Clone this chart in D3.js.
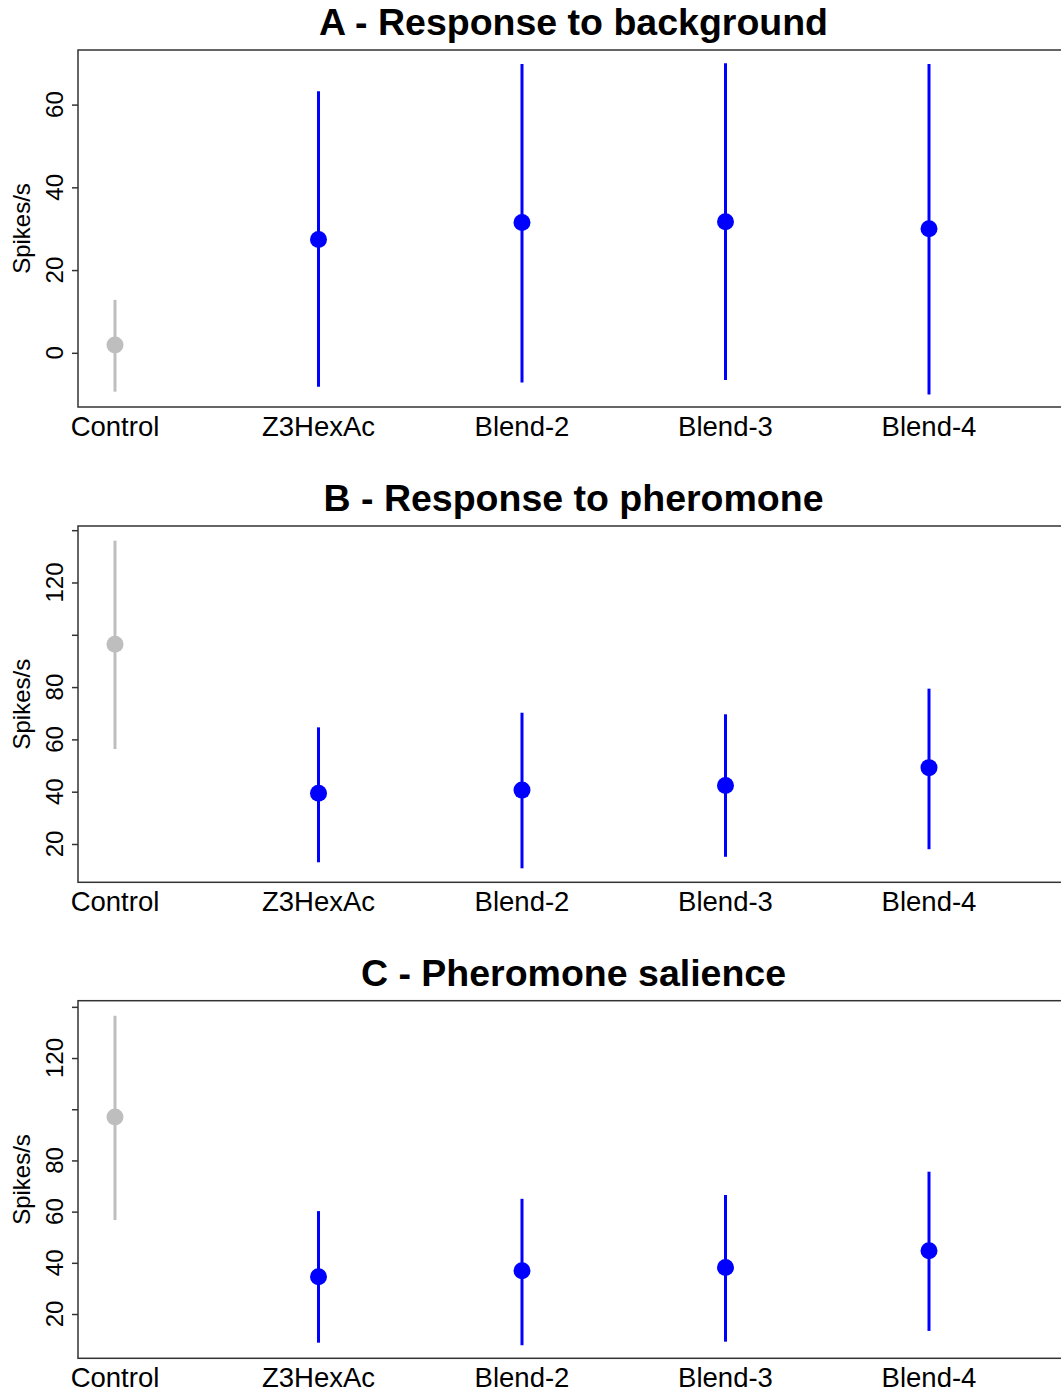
<!DOCTYPE html>
<meta charset="utf-8">
<html>
<script src="https://d3js.org/d3.v7.min.js"></script>
<style>
  body { margin: 0; background: #fff; }
  text { font-family: "Liberation Sans", Arial, sans-serif; }
</style>
<body>
<div id="chart"></div>
<script>

    // categories along the x axis
    const categories = ["Control", "Z3HexAc", "Blend-2", "Blend-3", "Blend-4"]

    // panel titles
    const titles = ["A - Response to background", "B - Response to pheromone", "C - Pheromone salience"]

    // A - response to background (spikes/s)
    const meanA = [1.9, 27.4, 31.5, 31.7, 30.0]
    const lowA  = [-9.4, -8.2, -7.2, -6.6, -10.1]
    const highA = [12.8, 63.2, 69.8, 70.0, 69.8]

    // B - response to pheromone
    const meanB = [96.4, 39.4, 40.6, 42.4, 49.2]
    const lowB  = [56.3, 13.0, 10.7, 15.1, 18.0]
    const highB = [136.0, 64.6, 70.2, 69.6, 79.4]

    // C - pheromone salience
    const meanC = [97.0, 34.6, 36.9, 38.2, 44.7]
    const lowC  = [56.7, 8.8, 7.8, 9.2, 13.4]
    const highC = [136.5, 60.2, 65.0, 66.5, 75.6]

    // y ticks (R drops the labels that would overlap)
    const ticksA = [0, 20, 40, 60]
    const labelsA = [0, 20, 40, 60]
    const ticksBC = [20, 40, 60, 80, 100, 120, 140]
    const labelsBC = [20, 40, 60, 80, 120]

    const width = 1061, height = 1391

    const panels = [
      {title: titles[0], mean: meanA, low: lowA, high: highA, ticks: ticksA, labels: labelsA,
       domain: [-13.1, 73.2], top: 50, bottom: 407},
      {title: titles[1], mean: meanB, low: lowB, high: highB, ticks: ticksBC, labels: labelsBC,
       domain: [5.35, 141.6], top: 526, bottom: 882.3},
      {title: titles[2], mean: meanC, low: lowC, high: highC, ticks: ticksBC, labels: labelsBC,
       domain: [2.7, 142.4], top: 1000.7, bottom: 1358.3}
    ]

    const left = 78, right = 1069

    const svg = d3.select("#chart")
      .append("svg")
        .attr("width", width)
        .attr("height", height)

    // x positions: categories are 1..5
    const x = d3.scaleLinear()
      .domain([1, 5])
      .range([115, 929])

    panels.forEach(function(p) {
      const y = d3.scaleLinear()
        .domain(p.domain)
        .range([p.bottom, p.top])

      const g = svg.append("g")

      // title
      g.append("text")
        .attr("x", (left + right) / 2)
        .attr("y", p.top - 15)
        .attr("text-anchor", "middle")
        .style("font-size", "37.5px")
        .style("font-weight", "bold")
        .text(p.title)

      // plot box
      g.append("rect")
        .attr("x", left)
        .attr("y", p.top)
        .attr("width", right - left)
        .attr("height", p.bottom - p.top)
        .attr("fill", "none")
        .attr("stroke", "#333")
        .attr("stroke-width", 1.5)

      // y axis ticks
      const yAxis = d3.axisLeft(y)
        .tickValues(p.ticks)
        .tickSize(6)
        .tickFormat("")
      const ax = g.append("g")
        .attr("transform", `translate(${left},0)`)
        .call(yAxis)
      ax.select(".domain").remove()
      ax.selectAll(".tick line").attr("stroke", "#333").attr("stroke-width", 1.5)

      // tick labels, rotated like R's las=0
      g.selectAll(".ylab")
        .data(p.labels)
        .join("text")
          .attr("transform", d => `translate(63,${y(d)}) rotate(-90)`)
          .attr("text-anchor", "middle")
          .style("font-size", "24px")
          .text(d => d)

      // y axis title
      g.append("text")
        .attr("transform", `translate(30,${(p.top + p.bottom) / 2}) rotate(-90)`)
        .attr("text-anchor", "middle")
        .style("font-size", "24px")
        .text("Spikes/s")

      // category labels
      g.selectAll(".xlab")
        .data(categories)
        .join("text")
          .attr("x", (d, i) => x(i + 1))
          .attr("y", p.bottom + 29)
          .attr("text-anchor", "middle")
          .style("font-size", "27.5px")
          .text(d => d)

      const color = function(i) { return i == 0 ? "#bebebe" : "#0000ff" }

      // error bars
      g.selectAll(".bar")
        .data(p.mean)
        .join("line")
          .attr("x1", (d, i) => x(i + 1))
          .attr("x2", (d, i) => x(i + 1))
          .attr("y1", (d, i) => y(p.low[i]))
          .attr("y2", (d, i) => y(p.high[i]))
          .attr("stroke", (d, i) => color(i))
          .attr("stroke-width", 3)

      // means
      g.selectAll(".pt")
        .data(p.mean)
        .join("circle")
          .attr("cx", (d, i) => x(i + 1))
          .attr("cy", d => y(d))
          .attr("r", 8.5)
          .attr("fill", (d, i) => color(i))
    })

</script>
</body>
</html>
